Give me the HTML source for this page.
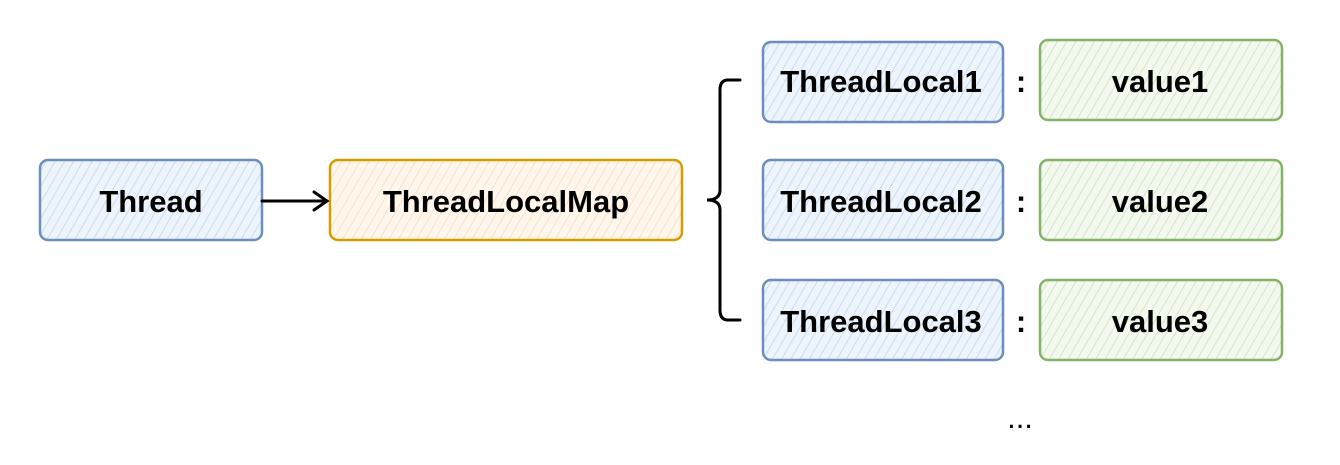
<!DOCTYPE html>
<html><head><style>body{margin:0;background:#fff}</style></head><body>
<svg width="1340" height="460" xmlns="http://www.w3.org/2000/svg" font-family="Liberation Sans, sans-serif" font-weight="bold">
<defs>
<pattern id="hb" width="8" height="8" patternUnits="userSpaceOnUse" patternTransform="rotate(30)"><rect width="8" height="8" fill="#eef4fc"/><line x1="0" y1="0" x2="0" y2="8" stroke="#c9dcf5" stroke-width="2"/></pattern>
<pattern id="ho" width="8" height="8" patternUnits="userSpaceOnUse" patternTransform="rotate(30)"><rect width="8" height="8" fill="#fff7ee"/><line x1="0" y1="0" x2="0" y2="8" stroke="#fde0c2" stroke-width="2"/></pattern>
<pattern id="hg" width="8" height="8" patternUnits="userSpaceOnUse" patternTransform="rotate(30)"><rect width="8" height="8" fill="#f3f9ef"/><line x1="0" y1="0" x2="0" y2="8" stroke="#d2e8c6" stroke-width="2"/></pattern>
</defs>
<g stroke-width="2.5">
<rect x="40" y="160" width="222" height="80" rx="8" fill="url(#hb)" stroke="#6c8ebf"/>
<rect x="330" y="160" width="352" height="80" rx="8" fill="url(#ho)" stroke="#d79b00"/>
<rect x="763" y="42" width="240" height="80" rx="8" fill="url(#hb)" stroke="#6c8ebf"/>
<rect x="763" y="160" width="240" height="80" rx="8" fill="url(#hb)" stroke="#6c8ebf"/>
<rect x="763" y="280" width="240" height="80" rx="8" fill="url(#hb)" stroke="#6c8ebf"/>
<rect x="1040" y="40" width="242" height="80" rx="8" fill="url(#hg)" stroke="#82b366"/>
<rect x="1040" y="160" width="242" height="80" rx="8" fill="url(#hg)" stroke="#82b366"/>
<rect x="1040" y="280" width="242" height="80" rx="8" fill="url(#hg)" stroke="#82b366"/>
</g>
<g stroke="#000" stroke-width="3" fill="none" stroke-linecap="round">
<line x1="262" y1="201" x2="326" y2="201"/>
<polyline points="314,192 327,201 314,210"/>
<path d="M740,80 H728 Q720,80 720,90 V190 Q720,200 707,200 Q720,200 720,210 V310 Q720,320 728,320 H740"/>
</g>
<g font-size="31" text-anchor="middle" fill="#000">
<text x="151" y="212">Thread</text>
<text x="506" y="212">ThreadLocalMap</text>
<text x="881" y="92">ThreadLocal1</text>
<text x="881" y="212">ThreadLocal2</text>
<text x="881" y="332">ThreadLocal3</text>
<text x="1021" y="92">:</text><text x="1021" y="212">:</text><text x="1021" y="332">:</text>
<text x="1160" y="92">value1</text>
<text x="1160" y="212">value2</text>
<text x="1160" y="332">value3</text>
<text x="1020" y="428" font-weight="normal">...</text>
</g>
</svg>
</body></html>
